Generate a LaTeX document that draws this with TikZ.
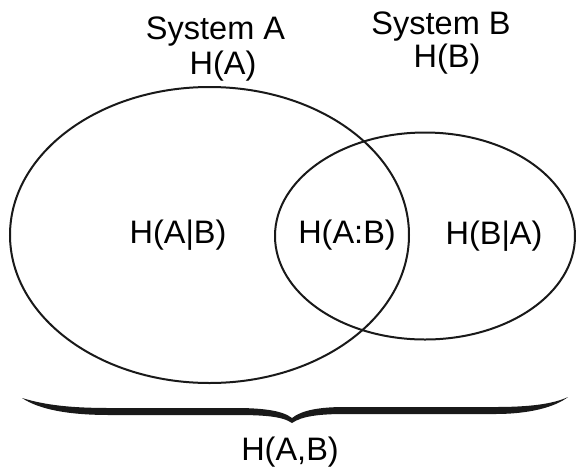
\documentclass[tikz,border=0pt]{standalone}
\usepackage{fontspec}
\setmainfont{Liberation Sans}
\usepackage{tikz}
\usetikzlibrary{positioning,calc}

\begin{document}
\begin{tikzpicture}[
    x=1pt, y=-1pt,
    lbl/.style={font=\fontsize{32.5}{39}\selectfont, anchor=base, inner sep=0pt},
    venn/.style={draw=black!90, line width=2pt},
]
\useasboundingbox (0,0) rectangle (576,467);

% the two systems
\draw[venn] (209.5,235) ellipse [x radius=199.5pt, y radius=148pt];
\draw[venn] (425,236) ellipse [x radius=150pt, y radius=103.5pt];

\node[lbl] (sysA) at (215.5,39) {System A};
\node[lbl] (HA) at (223,74) {H(A)};
\node[lbl] (sysB) at (441,34) {System B};
\node[lbl] (HB) at (447,67) {H(B)};

\node[lbl] (HAgB) at (178,243) {H(A|B)};
\node[lbl] (HAB) at (347,243) {H(A:B)};
\node[lbl] (HBgA) at (494,244) {H(B|A)};

% joint entropy brace
\coordinate (tip) at (292,423);
\fill[black!90] (22,398) .. controls (45,405) and (70,408) .. (110,408) -- (235,408)
    .. controls (260,408) and (282,410) .. ($(tip)+(0,-5)$)
    .. controls (302,410) and (320,407) .. (345,407) -- (495,407)
    .. controls (530,407) and (553,404) .. (568,397)
    .. controls (555,407) and (530,414) .. (495,414) -- (345,414)
    .. controls (320,414) and (302,416) .. (tip)
    .. controls (282,416) and (262,415) .. (235,415) -- (110,415)
    .. controls (70,415) and (40,410) .. (22,398) -- cycle;
\node[lbl] (HjAB) at (290,460) {H(A,B)};
\end{tikzpicture}
\end{document}
